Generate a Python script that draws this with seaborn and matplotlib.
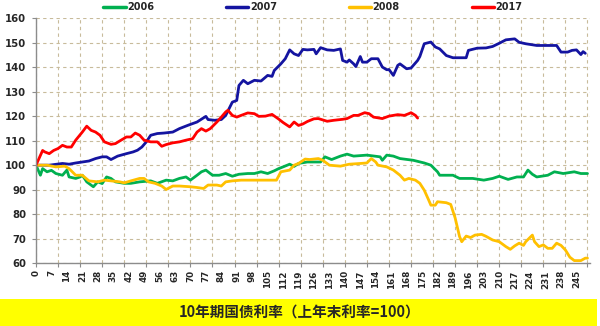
import matplotlib
matplotlib.use("Agg")
import matplotlib.pyplot as plt
from matplotlib.patches import Rectangle
import seaborn as sns
import pandas as pd

# Trading-day index and yield index (previous year-end = 100) for each year
days_2006 = [0, 2, 3, 5, 7, 9, 12, 14, 15, 18, 20, 21, 23, 26, 28, 30, 32, 34, 36, 40,
             43, 47, 52, 55, 59, 62, 65, 68, 70, 73, 75, 77, 80, 83, 86, 89, 92, 96, 99, 102,
             105, 108, 110, 112, 115, 117, 119, 123, 129, 131, 134, 138, 141, 144, 150, 156, 157, 159, 162, 165,
             171, 176, 179, 182, 183, 189, 192, 198, 203, 207, 210, 214, 218, 221, 223, 225, 227, 232, 235, 239,
             244, 247, 250]
vals_2006 = [100, 95.9, 98.6, 97.3, 97.9, 96.6, 95.9, 98.0, 95.2, 94.6, 95.2, 95.9, 93.2, 91.2, 93.2, 92.5, 95.2, 94.6, 93.2, 92.6,
             92.6, 93.2, 93.6, 92.6, 93.9, 93.6, 94.6, 95.2, 93.9, 95.9, 97.3, 98.0, 95.9, 95.9, 96.6, 95.5, 96.3, 96.6, 96.6, 97.3,
             96.6, 97.7, 98.6, 99.3, 100.4, 99.5, 100.7, 101.3, 101.3, 103.4, 102.3, 103.7, 104.5, 103.7, 104.1, 103.4, 102.0, 104.1, 103.7, 102.7,
             102.0, 100.9, 100.0, 97.3, 95.9, 95.9, 94.6, 94.6, 93.9, 94.6, 95.5, 94.2, 95.2, 95.2, 98.0, 96.3, 95.2, 95.9, 97.3, 96.6,
             97.3, 96.6, 96.6]

days_2007 = [0, 6, 12, 15, 18, 21, 24, 27, 30, 32, 34, 37, 41, 44, 46, 48, 50, 52, 55, 58,
             62, 65, 69, 73, 77, 78, 81, 84, 86, 89, 91, 92, 94, 96, 99, 102, 105, 107, 108, 111,
             113, 115, 117, 119, 121, 123, 126, 127, 129, 132, 135, 138, 139, 141, 142, 144, 145, 147, 148, 150,
             152, 155, 157, 159, 160, 162, 164, 165, 168, 170, 173, 174, 176, 179, 181, 183, 186, 189, 195, 196,
             200, 204, 207, 210, 213, 217, 219, 222, 227, 232, 236, 238, 241, 243, 245, 247, 248, 249]
vals_2007 = [100, 100, 100.7, 100.4, 100.9, 101.3, 101.7, 102.7, 103.4, 103.4, 102.3, 103.7, 104.7, 105.4, 106.1, 107.4, 109.5, 112.2, 112.9, 113.1,
             113.5, 114.9, 116.3, 117.6, 119.9, 118.6, 118.3, 118.6, 120.3, 125.7, 126.4, 132.5, 134.6, 133.2, 134.6, 134.3, 136.6, 136.2, 138.6, 141.3,
             143.4, 147.0, 145.4, 144.7, 147.2, 147.0, 147.2, 145.4, 147.9, 147.0, 146.8, 147.4, 142.7, 142.0, 142.9, 141.3, 140.2, 144.3, 142.0, 142.0,
             143.4, 143.4, 140.0, 138.9, 139.0, 136.6, 140.7, 141.3, 139.3, 139.6, 142.7, 144.3, 149.5, 150.2, 148.2, 147.4, 144.7, 143.8, 143.8, 146.8,
             147.7, 147.8, 148.4, 149.7, 151.1, 151.5, 150.1, 149.5, 148.8, 148.8, 148.8, 146.1, 146.1, 146.8, 147.0, 145.1, 146.3, 145.6]

days_2008 = [0, 5, 9, 13, 15, 18, 21, 24, 28, 31, 34, 38, 40, 43, 47, 49, 51, 54, 57, 59,
             62, 65, 70, 73, 76, 78, 82, 84, 86, 89, 93, 99, 105, 109, 111, 115, 117, 119, 122, 124,
             128, 130, 133, 138, 142, 147, 150, 152, 154, 155, 159, 162, 165, 167, 169, 172, 174, 176, 178, 179,
             181, 182, 186, 188, 190, 192, 193, 195, 197, 199, 202, 204, 207, 210, 213, 215, 217, 219, 221, 222,
             225, 226, 228, 230, 232, 234, 236, 238, 240, 242, 244, 247, 249, 250]
vals_2008 = [100, 100, 99.3, 99.6, 98.6, 95.9, 95.9, 93.6, 93.2, 93.9, 93.6, 93.2, 92.8, 93.6, 94.6, 94.6, 93.2, 92.6, 91.5, 90.1,
             91.5, 91.5, 91.2, 90.9, 90.5, 91.9, 91.9, 91.5, 93.2, 93.6, 93.9, 93.9, 93.9, 93.9, 97.3, 98.0, 100.0, 100.7, 102.5, 102.3,
             102.7, 102.0, 100.0, 99.6, 100.4, 100.7, 100.9, 102.7, 101.3, 100.0, 99.3, 98.0, 95.9, 93.9, 94.6, 93.9, 92.6, 89.8, 85.8, 83.7,
             83.7, 85.1, 84.7, 84.0, 78.5, 70.9, 68.8, 71.1, 70.5, 71.5, 71.8, 71.0, 69.5, 68.8, 66.8, 65.7, 67.1, 68.2, 67.3, 68.8,
             71.5, 68.8, 66.8, 67.5, 66.1, 66.1, 68.2, 67.3, 65.4, 62.5, 61.1, 61.1, 62.1, 62.1]

days_2017 = [0, 3, 4, 6, 8, 10, 12, 14, 16, 18, 21, 23, 25, 27, 29, 31, 34, 36, 38, 41,
             43, 45, 47, 49, 52, 55, 57, 59, 62, 65, 68, 71, 73, 75, 77, 79, 82, 84, 86, 87,
             89, 91, 93, 96, 99, 101, 104, 107, 110, 112, 115, 117, 119, 121, 123, 126, 128, 132, 135, 139,
             141, 144, 146, 149, 151, 153, 157, 160, 164, 167, 169, 170, 172, 173]
vals_2017 = [100, 106.0, 105.4, 104.7, 106.0, 106.8, 108.1, 107.4, 107.4, 110.2, 113.5, 115.9, 114.2, 113.5, 112.2, 109.5, 108.5, 108.8, 109.9, 111.5,
             111.5, 113.1, 112.2, 110.2, 109.5, 109.5, 107.7, 108.4, 109.1, 109.5, 110.2, 110.8, 113.5, 114.9, 113.9, 114.9, 117.6, 119.6, 121.7, 122.4,
             120.3, 119.6, 120.3, 121.3, 121.0, 119.9, 120.0, 120.7, 118.8, 117.4, 115.6, 117.6, 116.2, 116.8, 117.8, 118.9, 119.0, 117.9, 118.3, 118.7,
             119.0, 120.3, 120.3, 121.4, 121.0, 119.6, 119.0, 120.0, 120.6, 120.3, 121.0, 121.4, 120.3, 119.2]

years = ["2006", "2007", "2008", "2017"]
colors = ["#00B050", "#1414A0", "#FFC000", "#FF0000"]
title = "10年期国债利率（上年末利率=100）"
ytick_vals = list(range(60, 161, 10))
xtick_labels = list(range(0, 246, 7))

frames = []
for yr, d, v in zip(years, [days_2006, days_2007, days_2008, days_2017],
                    [vals_2006, vals_2007, vals_2008, vals_2017]):
    frames.append(pd.DataFrame({"day": d, "value": v, "year": yr}))
df = pd.concat(frames, ignore_index=True)

sns.set_theme(style="white")
plt.rcParams["font.family"] = ["DejaVu Sans"]

fig = plt.figure(figsize=(6.0, 3.26), dpi=100)
fig.patch.set_facecolor("white")
ax = fig.add_axes([36 / 600, 1 - 263.3 / 326, 553.7 / 600, 245.3 / 326])

sns.lineplot(data=df, x="day", y="value", hue="year", hue_order=years,
             palette=colors, linewidth=2.0, estimator=None, sort=False, ax=ax)

ax.set_xlim(0, 251)
ax.set_ylim(60, 160)
ax.set_xlabel("")
ax.set_ylabel("")

# labelled day ticks every 7, grid and tick marks every 10
ax.xaxis.remove_overlapping_locs = False
ax.set_xticks(xtick_labels)
ax.set_xticklabels([str(t) for t in xtick_labels], rotation=90,
                   fontsize=6.3, fontweight="bold")
ax.set_xticks(list(range(0, 251, 10)), minor=True)
ax.tick_params(axis="x", which="major", length=0, pad=5)
ax.tick_params(axis="x", which="minor", length=3, width=0.8, color="#8c8c8c", bottom=True)

ax.set_yticks(ytick_vals)
ax.set_yticklabels([str(t) for t in ytick_vals], fontsize=7.3, fontweight="bold")
ax.tick_params(axis="y", which="major", length=3, width=0.8, color="#8c8c8c", pad=4, left=True)

grid_kw = dict(color="#c8bb9b", linestyle=(0, (3, 3)), linewidth=0.8)
ax.grid(False)
ax.xaxis.grid(True, which="minor", **grid_kw)
ax.yaxis.grid(True, which="major", **grid_kw)
ax.set_axisbelow(True)

for side in ["top", "right"]:
    ax.spines[side].set_visible(False)
for side in ["left", "bottom"]:
    ax.spines[side].set_color("#8c8c8c")
    ax.spines[side].set_linewidth(1.0)

sns.move_legend(ax, "center", bbox_to_anchor=(0.5, 1.045), ncol=4, frameon=False,
                title=None, prop={"weight": "bold", "size": 7},
                handlelength=2.3, handletextpad=0.15, columnspacing=7.4)
for line in ax.get_legend().get_lines():
    line.set_linewidth(2.5)

# yellow caption band
fig.patches.append(Rectangle((0, 0), 597 / 600, 27 / 326, transform=fig.transFigure,
                             facecolor="#FFFF00", edgecolor="none", zorder=0))
fig.text(0.5, 13.5 / 326, title, ha="center", va="center", fontsize=10.5,
         fontweight="bold", family=["Noto Sans CJK SC", "DejaVu Sans"])

fig.savefig("out.png", dpi=100, facecolor="white")
